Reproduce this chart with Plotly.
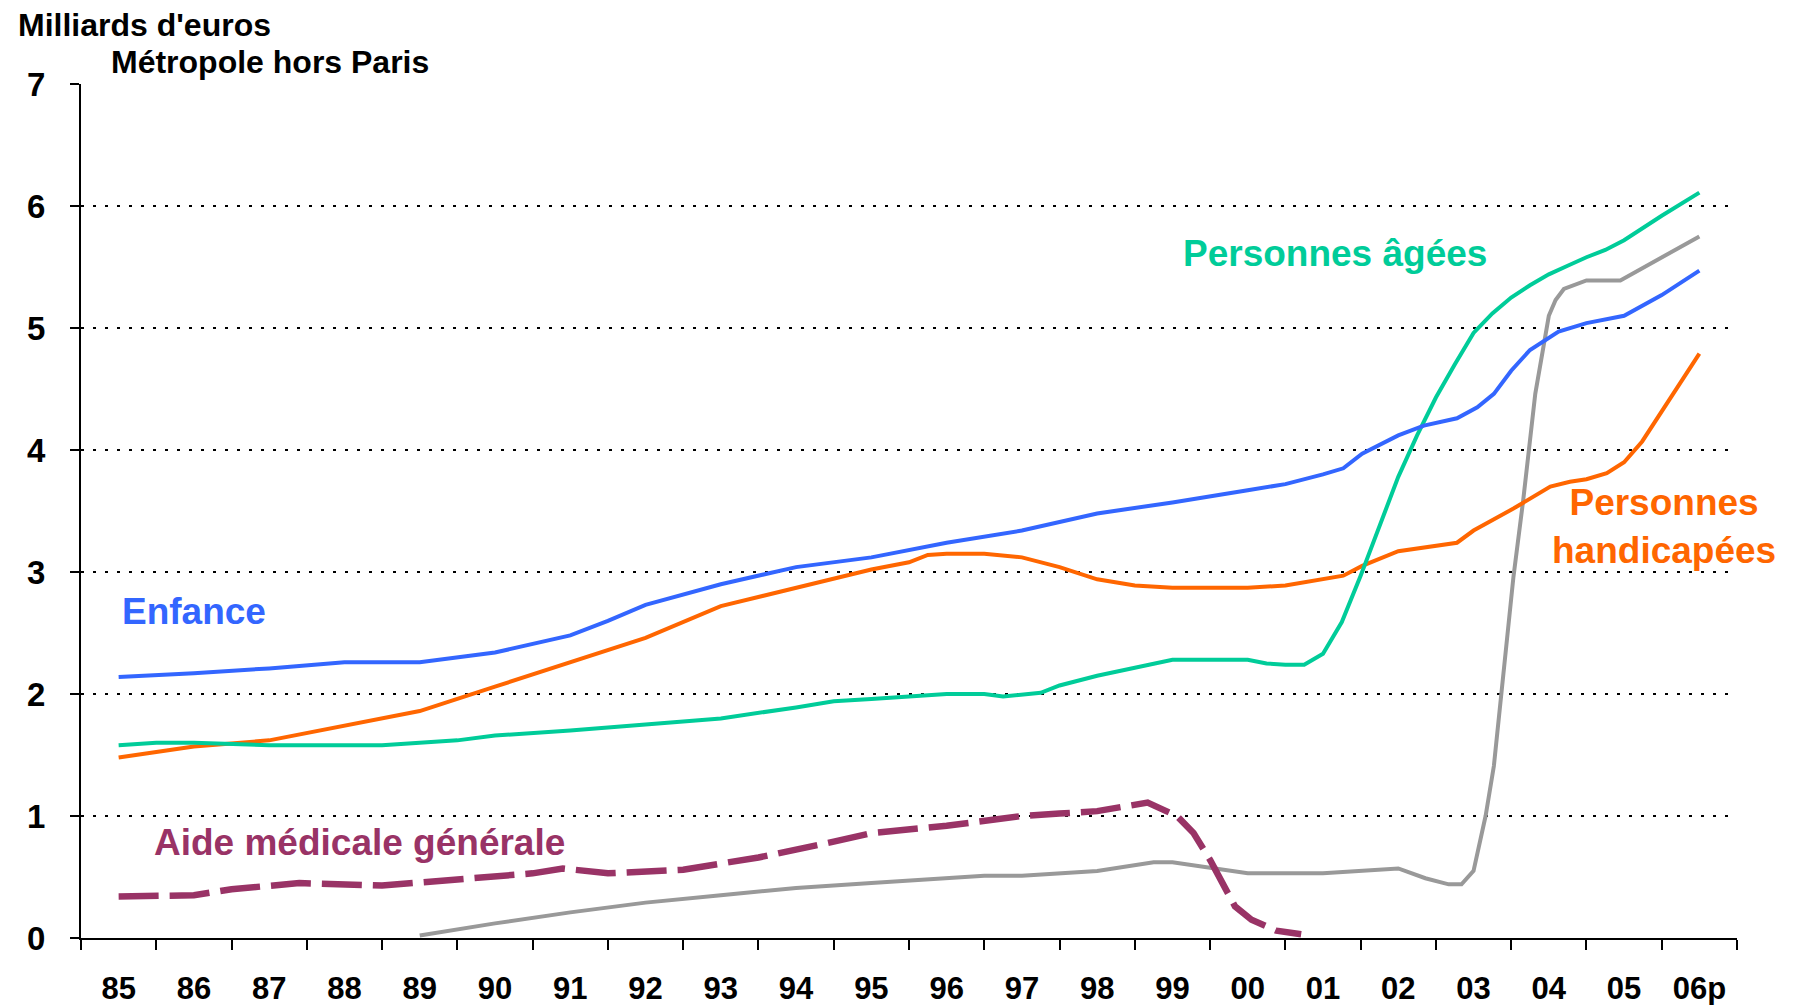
import plotly.graph_objects as go

# ---------------- data ----------------
year_ticks = list(range(1985, 2007))
year_labels = ["85", "86", "87", "88", "89", "90", "91", "92", "93", "94", "95",
               "96", "97", "98", "99", "00", "01", "02", "03", "04", "05", "06p"]

enfance_x = [1985, 1986, 1987, 1988, 1989, 1990, 1991, 1991.5, 1992, 1993, 1994, 1995,
             1996, 1997, 1998, 1999, 2000, 2000.5, 2001, 2001.27, 2001.52, 2002,
             2002.34, 2002.78, 2003.05, 2003.27, 2003.5, 2003.75, 2004.13, 2004.5,
             2005, 2005.5, 2006]
enfance_y = [2.14, 2.17, 2.21, 2.26, 2.26, 2.34, 2.48, 2.60, 2.73, 2.90, 3.04, 3.12,
             3.24, 3.34, 3.48, 3.57, 3.67, 3.72, 3.80, 3.85, 3.97, 4.12,
             4.20, 4.26, 4.35, 4.46, 4.65, 4.82, 4.97, 5.04,
             5.10, 5.27, 5.47]

agees_x = [1985, 1985.5, 1986, 1987, 1988, 1988.5, 1989, 1989.5, 1990, 1991, 1992, 1993,
           1994, 1994.5, 1995, 1996, 1996.5, 1996.75, 1997.25, 1997.5, 1998, 1999, 2000,
           2000.25, 2000.5, 2000.75, 2001, 2001.25, 2001.5, 2001.75, 2002, 2002.25,
           2002.5, 2002.75, 2003, 2003.25, 2003.5, 2003.75, 2004, 2004.25, 2004.5,
           2004.75, 2005, 2005.5, 2006]
agees_y = [1.58, 1.60, 1.60, 1.58, 1.58, 1.58, 1.60, 1.62, 1.66, 1.70, 1.75, 1.80,
           1.89, 1.94, 1.96, 2.00, 2.00, 1.98, 2.01, 2.07, 2.15, 2.28, 2.28,
           2.25, 2.24, 2.24, 2.33, 2.59, 2.97, 3.38, 3.78, 4.12,
           4.43, 4.70, 4.96, 5.12, 5.25, 5.35, 5.44, 5.51, 5.58,
           5.64, 5.72, 5.92, 6.11]

handi_x = [1985, 1986, 1987, 1988, 1989, 1990, 1991, 1992, 1993, 1994, 1995, 1995.5,
           1995.75, 1996, 1996.5, 1997, 1997.5, 1998, 1998.5, 1999, 2000, 2000.5, 2001,
           2001.27, 2001.52, 2002, 2002.78, 2003, 2003.53, 2004.02, 2004.28, 2004.5,
           2004.77, 2005, 2005.24, 2006]
handi_y = [1.48, 1.57, 1.62, 1.74, 1.86, 2.06, 2.26, 2.46, 2.72, 2.87, 3.02, 3.08,
           3.14, 3.15, 3.15, 3.12, 3.04, 2.94, 2.89, 2.87, 2.87, 2.89, 2.94,
           2.97, 3.05, 3.17, 3.24, 3.34, 3.52, 3.70, 3.74, 3.76,
           3.81, 3.90, 4.07, 4.79]

rmi_x = [1989, 1990, 1991, 1992, 1993, 1994, 1995, 1996, 1996.5, 1997, 1998, 1998.75,
         1999, 2000, 2001, 2002, 2002.36, 2002.67, 2002.84, 2003.0, 2003.16, 2003.27,
         2003.4, 2003.53, 2003.66, 2003.82, 2004.0, 2004.09, 2004.2, 2004.5, 2004.95, 2006]
rmi_y = [0.02, 0.12, 0.21, 0.29, 0.35, 0.41, 0.45, 0.49, 0.51, 0.51, 0.55, 0.62,
         0.62, 0.53, 0.53, 0.57, 0.49, 0.44, 0.44, 0.55, 1.00, 1.41,
         2.17, 2.96, 3.59, 4.46, 5.10, 5.23, 5.32, 5.39, 5.39, 5.75]

amg_x = [1985, 1986, 1986.5, 1987.4, 1988.5, 1989.5, 1990.5, 1990.9, 1991.5, 1992.5,
         1993.5, 1994.5, 1995, 1996, 1997, 1997.5, 1998, 1998.67, 1999.06, 1999.28,
         1999.5, 1999.83, 2000.05, 2000.38, 2000.71]
amg_y = [0.34, 0.35, 0.40, 0.45, 0.43, 0.48, 0.53, 0.57, 0.53, 0.56,
         0.66, 0.79, 0.86, 0.92, 1.00, 1.02, 1.04, 1.11, 1.00, 0.86,
         0.64, 0.26, 0.15, 0.06, 0.03]

# ---------------- styles ----------------
FONT = "Liberation Sans, Arial, sans-serif"
C_ENF = "#3366FF"
C_AGE = "#00CC99"
C_HAN = "#FF6600"
C_RMI = "#999999"
C_AMG = "#993366"

fig = go.Figure()
fig.add_trace(go.Scatter(x=rmi_x, y=rmi_y, mode="lines", name="RMI",
                         line=dict(color=C_RMI, width=4)))
fig.add_trace(go.Scatter(x=amg_x, y=amg_y, mode="lines", name="Aide médicale générale",
                         line=dict(color=C_AMG, width=6.5, dash="40px,11px")))
fig.add_trace(go.Scatter(x=handi_x, y=handi_y, mode="lines", name="Personnes handicapées",
                         line=dict(color=C_HAN, width=4)))
fig.add_trace(go.Scatter(x=agees_x, y=agees_y, mode="lines", name="Personnes âgées",
                         line=dict(color=C_AGE, width=4)))
fig.add_trace(go.Scatter(x=enfance_x, y=enfance_y, mode="lines", name="Enfance",
                         line=dict(color=C_ENF, width=4)))

annots = [
    dict(text="<b>Personnes âgées</b>", x=2001.16, y=5.61, color=C_AGE),
    dict(text="<b>RMI</b>", x=2006.89, y=5.78, color=C_RMI),
    dict(text="<b>Enfance</b>", x=1986.0, y=2.68, color=C_ENF),
    dict(text="<b>Personnes<br>handicapées</b>", x=2005.53, y=3.37, color=C_HAN),
    dict(text="<b>Aide médicale générale</b>", x=1988.2, y=0.78, color=C_AMG),
]
for a in annots:
    fig.add_annotation(text=a["text"], x=a["x"], y=a["y"], xref="x", yref="y",
                       xanchor="center", yanchor="middle", showarrow=False,
                       font=dict(family=FONT, size=37, color=a["color"]),
                       align="center")

fig.add_annotation(text="<b>Milliards d'euros</b>", xref="paper", yref="paper",
                   x=-0.0394, y=1.069, xanchor="left", yanchor="middle", showarrow=False,
                   font=dict(family=FONT, size=32, color="black"))
fig.add_annotation(text="<b>Métropole hors Paris</b>", xref="paper", yref="paper",
                   x=0.017, y=1.0252, xanchor="left", yanchor="middle", showarrow=False,
                   font=dict(family=FONT, size=32, color="black"))

fig.update_layout(
    width=1819, height=1005,
    margin=dict(l=73, r=90, t=76, b=75),
    paper_bgcolor="white", plot_bgcolor="white",
    showlegend=False,
    font=dict(family=FONT, color="black"),
)
fig.update_xaxes(
    range=[1984.5, 2006.5], automargin=False,
    tickmode="array", tickvals=year_ticks, ticktext=year_labels,
    ticks="", showgrid=False, zeroline=False,
    showline=True, linecolor="black", linewidth=2,
    tickfont=dict(family=FONT, size=31, color="black", weight="bold"),
    ticklabelstandoff=22,
    minor=dict(tickmode="linear", tick0=1984.5, dtick=1, ticks="outside",
               ticklen=10, tickwidth=1.5, tickcolor="black", showgrid=False),
)
fig.update_yaxes(
    range=[0, 7], tickmode="linear", tick0=0, dtick=1, automargin=False,
    ticks="outside", ticklen=9, tickwidth=1.5, tickcolor="black",
    showline=True, linecolor="black", linewidth=2,
    showgrid=True, gridcolor="black", gridwidth=1.5, griddash="3px,9px",
    zeroline=False,
    tickfont=dict(family=FONT, size=33, color="black", weight="bold"),
    ticklabelstandoff=18,
)

fig.write_html("out.html")
